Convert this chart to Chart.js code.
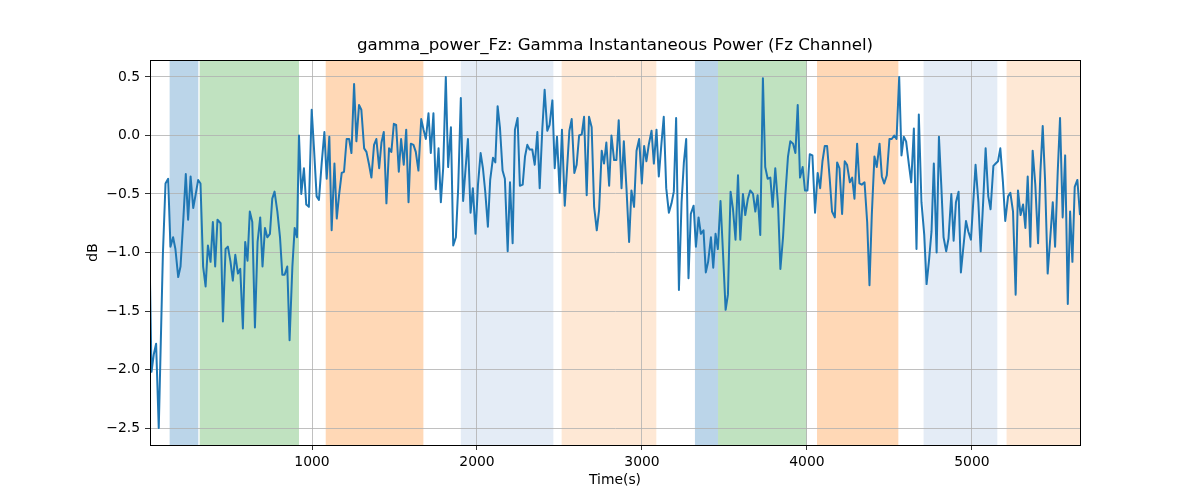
<!DOCTYPE html>
<html>
<head>
<meta charset="utf-8">
<script src="https://cdn.jsdelivr.net/npm/chart.js@4.4.1/dist/chart.umd.min.js"></script>
<style>
  html, body { margin: 0; padding: 0; background: #ffffff; }
  #wrap { width: 1200px; height: 500px; }
</style>
</head>
<body>
<div id="wrap"><canvas id="c" width="1200" height="500"></canvas></div>
<script>
// ---- data ----
const timeS = [
  18,27,41,55,71,96,112,128,142,158,172,189,203,219,235,249,264,280,294,310,324,340,355,369,385,399,413,427,446,460,476,490,506,520,535,551,565,581,595,609,623,638,654,670,686,700,715,729,745,759,773,790,806,820,834,850,864,881,895,909,921,935,951,965,981,
  998,1012,1028,1042,1059,1075,1089,1105,1119,1136,1150,1164,1180,1194,1210,1225,1239,1255,1269,1285,1299,1316,1330,1346,1360,1376,1390,1407,1421,1435,1451,1467,1481,1496,1510,1526,1540,1556,1571,1585,1599,1615,1629,1645,1662,1676,1690,1706,1720,1736,1750,1767,1781,1795,1811,1825,1842,1856,1872,1886,1902,1916,
  1931,1945,1961,1975,1991,2006,2022,2036,2050,2066,2080,2097,2111,2125,2139,2155,2169,2186,2200,2216,2230,2246,2260,2277,2291,2305,2319,2335,2350,2366,2380,2396,2410,2426,2440,2457,2471,2485,2501,2515,2532,2546,2560,2574,2590,2604,2619,2635,2649,2665,2679,2695,2710,2726,2740,2756,2770,2784,2801,2815,2831,2845,2859,
  2876,2890,2906,2922,2936,2952,2967,2983,2999,3013,3027,3041,3058,3072,3088,3102,3118,3132,3147,3163,3179,3193,3207,3224,3240,3254,3268,3282,3296,3313,3327,3343,3357,3373,3387,3401,3418,3432,3446,3460,3476,3490,3507,3521,3537,3551,3567,3582,3596,3612,3626,3642,3656,3673,3687,3701,3717,3733,3747,3762,3778,3792,
  3808,3825,3839,3855,3869,3885,3899,3916,3930,3944,3958,3974,3988,4003,4017,4033,4049,4065,4080,4094,4108,4122,4138,4152,4169,4183,4197,4213,4229,4243,4260,4274,4288,4304,4318,4332,4349,4365,4379,4393,4409,4423,4440,4454,4468,4484,4500,4514,4529,4543,4559,4573,4587,4601,4618,4632,4648,4664,4678,4694,4711,4725,
  4739,4755,4769,4786,4800,4814,4828,4844,4858,4875,4889,4903,4919,4933,4947,4964,4978,4994,5008,5022,5039,5053,5069,5083,5099,5113,5130,5144,5158,5172,5188,5202,5219,5233,5249,5265,5279,5295,5310,5324,5338,5354,5368,5384,5401,5415,5429,5443,5459,5473,5490,5504,5520,5534,5550,5565,5581,5595,5609,5623,5639,5655
];
const powerDb = [
  -1.25,-2.02,-1.87,-1.78,-2.50,-1.02,-0.41,-0.37,-0.95,-0.87,-0.97,-1.21,-1.12,-0.74,-0.33,-0.72,-0.35,-0.62,-0.51,-0.38,-0.41,-1.12,-1.29,-0.94,-1.08,-0.74,-1.12,-0.72,-0.75,-1.59,-0.97,-0.95,-1.08,-1.24,-1.02,-1.18,-1.14,-1.65,-0.91,-1.07,-0.65,-0.74,-1.64,-0.91,-0.70,-1.12,-0.79,-0.87,-0.84,-0.54,-0.48,-0.65,-0.87,-1.19,-1.19,-1.12,-1.75,-1.12,-0.79,-0.87,0.00,-0.50,-0.28,-0.59,-0.61,
  0.22,-0.11,-0.52,-0.55,-0.23,0.03,-0.37,-0.01,-0.81,-0.24,-0.71,-0.51,-0.32,-0.31,-0.03,-0.03,-0.15,0.44,-0.05,0.26,0.22,-0.11,-0.14,-0.25,-0.36,-0.08,-0.03,-0.28,-0.06,0.03,-0.58,-0.11,-0.14,0.10,0.09,-0.31,-0.03,-0.25,0.05,-0.57,-0.07,-0.08,-0.14,-0.30,0.14,0.05,-0.03,0.19,-0.15,0.19,-0.46,-0.11,-0.57,-0.28,0.50,-0.27,0.07,-0.94,-0.87,-0.45,0.32,-0.56,
  -0.28,-0.03,-0.66,-0.45,-0.84,-0.42,-0.15,-0.28,-0.48,-0.78,-0.38,-0.19,-0.23,0.25,0.07,-0.30,-0.37,-0.99,-0.40,-0.92,0.05,0.15,-0.43,-0.42,-0.18,-0.08,-0.12,-0.12,-0.25,0.03,-0.45,0.06,0.39,0.04,0.09,0.30,-0.28,-0.01,-0.49,0.05,-0.60,-0.28,0.04,0.14,-0.32,-0.25,0.00,0.01,0.16,-0.51,0.16,0.07,-0.61,-0.81,-0.64,-0.13,-0.24,-0.06,-0.43,0.00,-0.21,-0.21,0.13,
  -0.45,-0.05,-0.45,-0.91,-0.47,-0.61,-0.13,-0.03,-0.41,-0.09,-0.22,-0.08,0.04,-0.24,0.05,-0.35,-0.07,0.16,-0.45,-0.66,-0.58,-0.48,0.15,-1.32,-0.57,-0.23,-0.03,-1.22,-0.67,-0.60,-0.95,-0.70,-0.84,-0.81,-1.17,-1.08,-0.87,-1.13,-0.84,-0.97,-0.56,-0.97,-1.49,-1.36,-0.48,-0.62,-0.89,-0.34,-0.89,-0.50,-0.68,-0.54,-0.47,-0.50,-0.65,-0.51,-0.85,0.49,-0.27,-0.37,-0.36,-0.61,
  -0.28,-0.60,-1.14,-0.87,-0.51,-0.18,-0.05,-0.07,-0.15,0.26,-0.36,-0.27,-0.47,-0.47,-0.16,-0.17,-0.66,-0.32,-0.45,-0.22,-0.09,-0.09,-0.37,-0.65,-0.70,-0.23,-0.28,-0.67,-0.22,-0.25,-0.40,-0.36,-0.54,-0.07,-0.41,-0.42,-0.40,-0.74,-1.28,-0.68,-0.18,-0.27,-0.07,-0.35,-0.41,-0.34,-0.03,-0.03,0.00,-0.03,0.50,-0.17,-0.01,-0.05,-0.25,-0.40,0.06,-0.97,0.18,-0.57,-0.85,-1.27,
  -1.08,-0.82,-0.24,-1.00,-0.01,-0.42,-0.87,-0.99,-0.88,-0.50,-0.90,-0.57,-0.48,-1.17,-0.97,-0.73,-0.82,-0.89,-0.57,-0.25,-0.57,-0.99,-0.54,-0.11,-0.52,-0.63,-0.26,-0.24,-0.22,-0.11,-0.40,-0.73,-0.52,-0.49,-0.65,-1.36,-0.47,-0.68,-0.59,-0.79,-0.35,-0.95,-0.13,-0.42,-0.92,-0.31,0.08,-0.37,-1.18,-0.91,-0.57,-0.95,-0.31,0.15,-0.70,-0.17,-1.44,-0.65,-1.08,-0.44,-0.38,-0.68
];
// shaded intervals (seconds)
const spanStart = [137, 319, 1083, 1902, 2513, 3321, 3461, 4061, 4707, 5210];
const spanEnd   = [311, 921, 1675, 2463, 3087, 3461, 4000, 4554, 5154, 5700];
const spanKind  = ['blue','green','orange','lightblue','lightorange','blue','green','orange','lightblue','lightorange'];
const xTicks = [1000, 2000, 3000, 4000, 5000];
const yTicks = [-2.5, -2.0, -1.5, -1.0, -0.5, 0.0, 0.5];

// ---- styles ----
const kindColor = {
  blue: 'rgb(187,213,233)',
  green: 'rgb(192,226,192)',
  orange: 'rgb(255,216,182)',
  lightblue: 'rgb(228,236,246)',
  lightorange: 'rgb(254,232,213)'
};
const FONT = "'DejaVu Sans', sans-serif";

const points = timeS.map((t, i) => ({ x: t, y: powerDb[i] }));

const spanPlugin = {
  id: 'spans',
  beforeDraw(chart) {
    const { ctx, chartArea, scales } = chart;
    ctx.save();
    ctx.beginPath();
    ctx.rect(chartArea.left, chartArea.top, chartArea.right - chartArea.left, chartArea.bottom - chartArea.top);
    ctx.clip();
    for (let i = 0; i < spanStart.length; i++) {
      const x0 = scales.x.getPixelForValue(spanStart[i]);
      const x1 = scales.x.getPixelForValue(spanEnd[i]);
      ctx.fillStyle = kindColor[spanKind[i]];
      ctx.fillRect(x0, chartArea.top, x1 - x0, chartArea.bottom - chartArea.top);
    }
    ctx.restore();
  },
  afterDraw(chart) {
    const { ctx, chartArea } = chart;
    ctx.save();
    ctx.strokeStyle = '#000';
    ctx.lineWidth = 1;
    ctx.strokeRect(Math.round(chartArea.left) + 0.5, Math.round(chartArea.top) + 0.5,
      Math.round(chartArea.right - chartArea.left), Math.round(chartArea.bottom - chartArea.top));
    ctx.restore();
  }
};

new Chart(document.getElementById('c'), {
  type: 'scatter',
  data: {
    datasets: [{
      data: points,
      showLine: true,
      borderColor: '#1f77b4',
      borderWidth: 2,
      pointRadius: 0,
      pointHoverRadius: 0,
      tension: 0,
      fill: false,
      borderJoinStyle: 'round'
    }]
  },
  options: {
    responsive: false,
    animation: false,
    events: [],
    layout: { padding: { left: 0, right: 120, top: 0, bottom: 0 } },
    plugins: {
      legend: { display: false },
      tooltip: { enabled: false },
      title: {
        display: true,
        fullSize: false,
        text: 'gamma_power_Fz: Gamma Instantaneous Power (Fz Channel)',
        color: '#000',
        font: { family: FONT, size: 16.67, weight: 'normal', lineHeight: 1.2 },
        padding: { top: 36, bottom: 4 }
      }
    },
    scales: {
      x: {
        type: 'linear',
        min: 18,
        max: 5655,
        afterBuildTicks(scale) { scale.ticks = xTicks.map(v => ({ value: v })); },
        afterFit(scale) { scale.height = 55; },
        ticks: {
          color: '#000',
          font: { family: FONT, size: 13.9 },
          padding: 4,
          maxRotation: 0,
          autoSkip: false,
          callback: v => String(v)
        },
        grid: { color: '#b0b0b0', lineWidth: 0.8, tickLength: 5, tickColor: '#000', drawTicks: true },
        border: { display: true, color: '#000', width: 1 },
        title: {
          display: true,
          text: 'Time(s)',
          color: '#000',
          font: { family: FONT, size: 13.9, lineHeight: 1.2 },
          padding: { top: 0, bottom: 11 }
        }
      },
      y: {
        type: 'linear',
        min: -2.645,
        max: 0.645,
        afterBuildTicks(scale) { scale.ticks = yTicks.map(v => ({ value: v })); },
        afterFit(scale) { scale.width = 150; },
        ticks: {
          color: '#000',
          font: { family: FONT, size: 13.9 },
          padding: 5,
          autoSkip: false,
          callback: v => v.toFixed(1).replace('-', '\u2212')
        },
        grid: { color: '#b0b0b0', lineWidth: 0.8, tickLength: 5, tickColor: '#000', drawTicks: true },
        border: { display: true, color: '#000', width: 1 },
        title: {
          display: true,
          text: 'dB',
          color: '#000',
          font: { family: FONT, size: 13.9, lineHeight: 1.2 },
          padding: { top: 85, bottom: 0 }
        }
      }
    }
  },
  plugins: [spanPlugin]
});
</script>
</body>
</html>
